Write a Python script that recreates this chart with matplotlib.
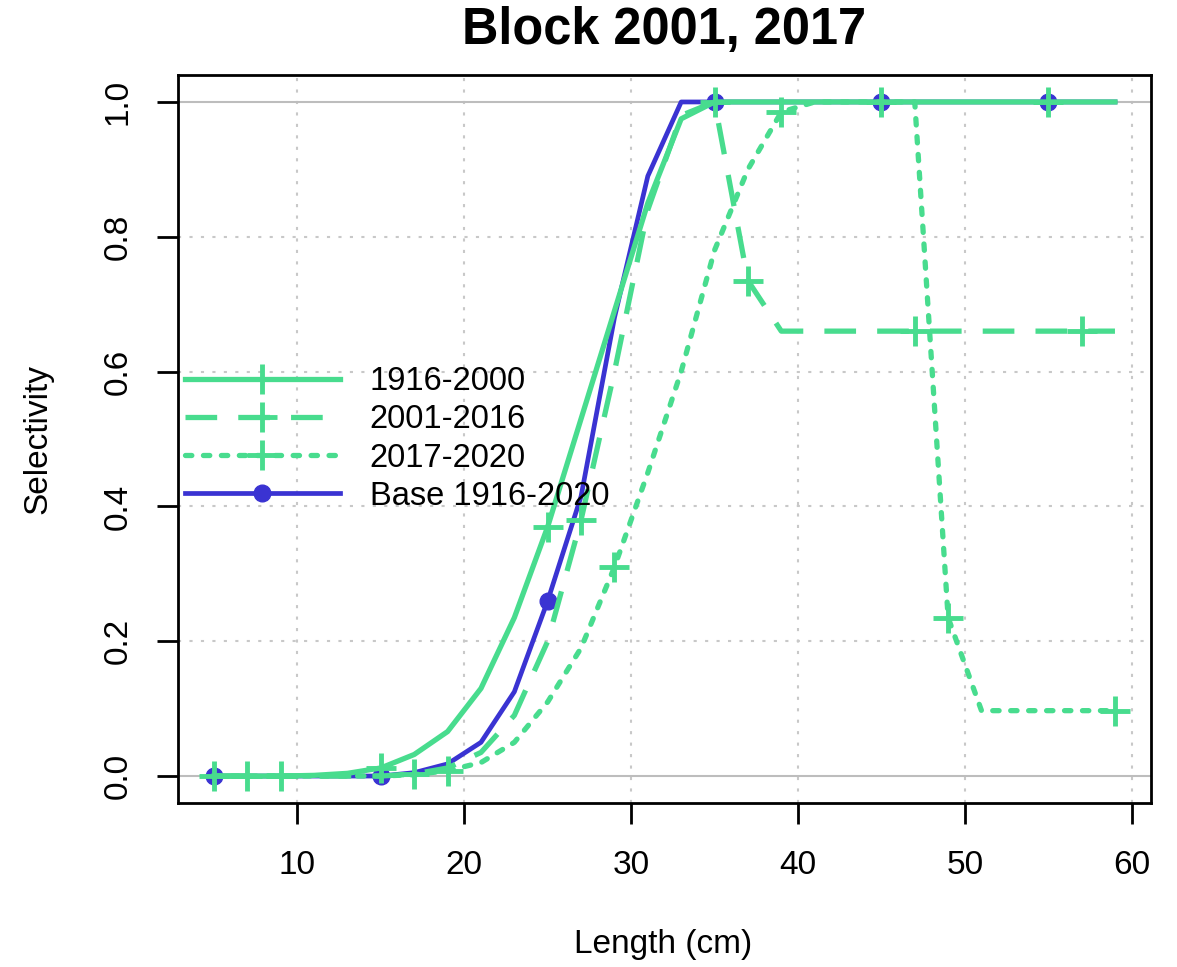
import matplotlib
matplotlib.use("Agg")
import matplotlib.pyplot as plt

plt.rcParams['font.family'] = ['Liberation Sans', 'DejaVu Sans']

# length bins (cm)
lengths = list(range(5, 61, 2))

sel_1916_2000 = [0, 0, 0, 0.001, 0.004, 0.012, 0.032, 0.066, 0.13, 0.235,
                 0.37, 0.53, 0.69, 0.85, 0.975, 1, 1, 1, 1, 1,
                 1, 1, 1, 1, 1, 1, 1, 1]
sel_2001_2016 = [0, 0, 0, 0, 0, 0, 0.003, 0.012, 0.035, 0.09,
                 0.2, 0.38, 0.6, 0.84, 0.98, 1, 0.735, 0.66, 0.66, 0.66,
                 0.66, 0.66, 0.66, 0.66, 0.66, 0.66, 0.66, 0.66]
sel_2017_2020 = [0, 0, 0, 0, 0, 0, 0.002, 0.008, 0.02, 0.05,
                 0.11, 0.19, 0.31, 0.45, 0.6, 0.78, 0.9, 0.985, 1, 1,
                 1, 1, 0.235, 0.097, 0.097, 0.097, 0.097, 0.097]
sel_base = [0, 0, 0, 0, 0, 0, 0.005, 0.018, 0.05, 0.125,
            0.26, 0.415, 0.68, 0.89, 1, 1, 1, 1, 1, 1,
            1, 1, 1, 1, 1, 1, 1, 1]

labels = ['1916-2000', '2001-2016', '2017-2020', 'Base 1916-2020']
green = '#48DC8E'
blue = '#3A33D2'

fig = plt.figure(figsize=(11.77, 9.67), dpi=100)
ax = fig.add_axes([178 / 1177, 1 - 803 / 967, 973 / 1177, 728 / 967])

# grid and reference lines
for gx in [10, 20, 30, 40, 50, 60]:
    ax.axvline(gx, color='#c8c8c8', lw=1.5, ls=(0, (1.5, 4)), zorder=0)
for gy in [0.2, 0.4, 0.6, 0.8]:
    ax.axhline(gy, color='#c8c8c8', lw=1.5, ls=(0, (1.5, 4)), zorder=0)
ax.axhline(0, color='#bdbdbd', lw=1.5, zorder=0)
ax.axhline(1, color='#bdbdbd', lw=1.5, zorder=0)

lw = 3.8
ax.plot(lengths, sel_base, color=blue, lw=3.4, marker='o', ms=12,
        markevery=range(0, 28, 5), label=labels[3], zorder=2)
ax.plot(lengths, sel_1916_2000, color=green, lw=lw, marker='+', ms=22, mew=3.5,
        markevery=range(0, 28, 5), label=labels[0], zorder=3)
l2, = ax.plot(lengths, sel_2001_2016, color=green, lw=lw, marker='+', ms=22, mew=3.5,
              markevery=range(1, 28, 5), label=labels[1], zorder=3)
l2.set_dashes((6, 4))
l3, = ax.plot(lengths, sel_2017_2020, color=green, lw=lw, marker='+', ms=22, mew=3.5,
              markevery=range(2, 28, 5), label=labels[2], zorder=3)
l3.set_dashes((1.2, 2.2))
l3.set_dash_capstyle('round')

ax.set_xlim(2.84, 61.16)
ax.set_ylim(-0.04, 1.04)
ax.set_xticks([10, 20, 30, 40, 50, 60])
ax.set_yticks([0.0, 0.2, 0.4, 0.6, 0.8, 1.0])
ax.set_yticklabels(['0.0', '0.2', '0.4', '0.6', '0.8', '1.0'], rotation=90, va='center')
ax.tick_params(axis='both', labelsize=24, length=15, width=2)
ax.tick_params(axis='x', pad=19)
ax.tick_params(axis='y', pad=17)
for sp in ax.spines.values():
    sp.set_linewidth(2)

handles, labs = ax.get_legend_handles_labels()
order = [1, 2, 3, 0]
ax.legend([handles[i] for i in order], [labs[i] for i in order],
          loc='center left', bbox_to_anchor=(0.007, 0.50), frameon=False,
          fontsize=23.5, handlelength=4.75, handletextpad=0.92, labelspacing=0.22,
          borderpad=0, borderaxespad=0)

fig.text(664 / 1177, 1 - 30 / 967, 'Block 2001, 2017', ha='center', va='center',
         fontsize=36.4, fontweight='bold')
fig.text(663 / 1177, 1 - 945 / 967, 'Length (cm)', ha='center', va='center', fontsize=24)
fig.text(38 / 1177, 1 - 439 / 967, 'Selectivity', ha='center', va='center',
         fontsize=24, rotation=90)

fig.savefig('out.png', dpi=100)
